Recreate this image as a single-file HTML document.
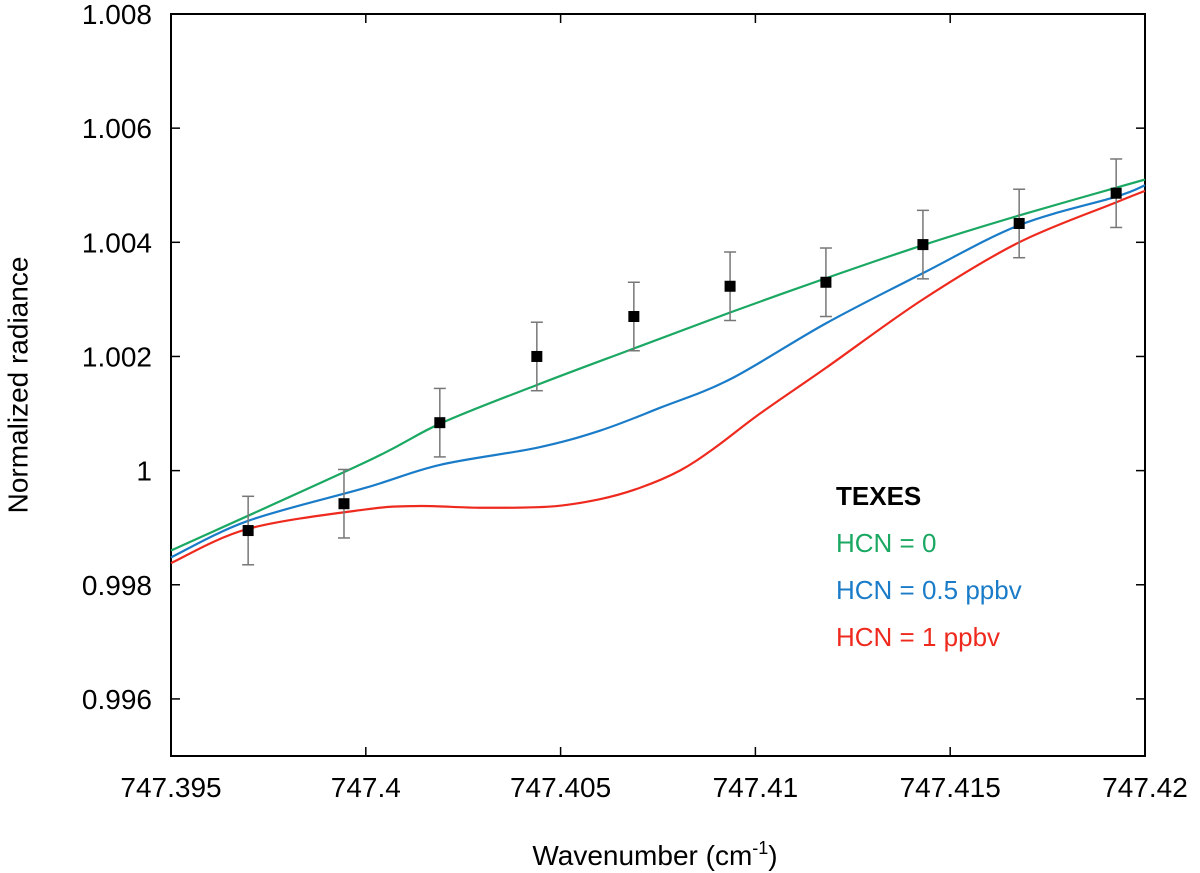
<!DOCTYPE html>
<html><head><meta charset="utf-8"><style>
html,body{margin:0;padding:0;background:#fff}
svg{display:block;font-family:"Liberation Sans",sans-serif}
</style></head><body>
<svg id="chart" width="1200" height="873">
<rect x="171" y="14" width="974" height="742" fill="none" stroke="#000" stroke-width="2"/>
<g id="ticks"></g>
<g id="series"></g>
<g id="points"></g>
<text x="20" y="385" transform="rotate(-90 20 385)" text-anchor="middle" dominant-baseline="middle" font-size="28">Normalized radiance</text>
<text x="655" y="865" text-anchor="middle" font-size="28">Wavenumber (cm<tspan dy="-11" font-size="18">-1</tspan><tspan dy="11">)</tspan></text>
<g>
<text x="836" y="505" font-size="26" font-weight="bold" fill="#000">TEXES</text>
<text x="836" y="552" font-size="26" fill="#1aa862">HCN = 0</text>
<text x="836" y="599" font-size="26" fill="#1a7cc8">HCN = 0.5 ppbv</text>
<text x="836" y="646" font-size="26" fill="#ee2a1e">HCN = 1 ppbv</text>
</g>
</svg>
<script>
const xTicks=[747.395,747.4,747.405,747.41,747.415,747.42];
const xTickLabels=["747.395","747.4","747.405","747.41","747.415","747.42"];
const yTicks=[0.996,0.998,1,1.002,1.004,1.006,1.008];
const yTickLabels=["0.996","0.998","1","1.002","1.004","1.006","1.008"];
const obsX=[747.39698,747.39944,747.4019,747.40439,747.40688,747.40935,747.41181,747.4143,747.41677,747.41926];
const obsY=[0.99895,0.99942,1.00084,1.002,1.0027,1.00323,1.0033,1.00396,1.00433,1.00486];
const obsErr=[0.0006,0.0006,0.0006,0.0006,0.0006,0.0006,0.0006,0.0006,0.0006,0.0006];
const greenX=[747.395,747.4,747.4019,747.40439,747.40688,747.40935,747.41181,747.4143,747.41677,747.42];
const greenY=[0.9986,1.00015,1.00082,1.0015,1.00214,1.00277,1.00337,1.00395,1.00447,1.0051];
const blueX=[747.395,747.39698,747.4,747.4019,747.40439,747.40601,747.40755,747.40935,747.41181,747.4143,747.41677,747.41926,747.42];
const blueY=[0.99848,0.99912,0.9997,1.0001,1.0004,1.0007,1.0011,1.0016,1.00258,1.00346,1.0043,1.0048,1.005];
const redX=[747.395,747.39698,747.4,747.40139,747.40293,747.40473,747.40601,747.40704,747.40806,747.40896,747.41012,747.41181,747.4143,747.41677,747.41926,747.42];
const redY=[0.99838,0.99898,0.99932,0.99938,0.99935,0.99937,0.9995,0.9997,1.0,1.0004,1.001,1.0018,1.003,1.004,1.0047,1.0049];
const X0=171,X1=1145,Y0=756,Y1=14;
function xs(v){return X0+(v-747.395)/(747.42-747.395)*(X1-X0);}
function ys(v){return Y0-(v-0.995)/(1.008-0.995)*(Y0-Y1);}
const NS="http://www.w3.org/2000/svg";
function mk(tag,attrs,parent){const e=document.createElementNS(NS,tag);for(const k in attrs)e.setAttribute(k,attrs[k]);parent.appendChild(e);return e;}
const tk=document.getElementById('ticks');
xTicks.forEach((v,i)=>{const x=xs(v);
 let l=mk('line',{x1:x,x2:x,y1:Y0,y2:Y0-9,stroke:'#000','stroke-width':1.5},tk);
 
 
 let l2=mk('line',{x1:x,x2:x,y1:Y1,y2:Y1+9,stroke:'#000','stroke-width':1.5},tk);
 
 
 const t=mk('text',{x:x,y:797,'text-anchor':'middle','font-size':28},tk);t.textContent=xTickLabels[i];
 
 
});
yTicks.forEach((v,i)=>{const y=ys(v);
 let l=mk('line',{x1:X0,x2:X0+9,y1:y,y2:y,stroke:'#000','stroke-width':1.5},tk);
 
 
 let l2=mk('line',{x1:X1,x2:X1-9,y1:y,y2:y,stroke:'#000','stroke-width':1.5},tk);
 
 
 const t=mk('text',{x:152,y:y+10,'text-anchor':'end','font-size':28},tk);t.textContent=yTickLabels[i];
 
 
});
function smooth(xa,ya){const p=xa.map((v,i)=>[xs(v),ys(ya[i])]);let d='M'+p[0][0]+','+p[0][1];
 for(let i=0;i<p.length-1;i++){const a=p[i-1]||p[i],b=p[i],c=p[i+1],e=p[i+2]||c;
  d+=' C'+(b[0]+(c[0]-a[0])/6)+','+(b[1]+(c[1]-a[1])/6)+' '+(c[0]-(e[0]-b[0])/6)+','+(c[1]-(e[1]-b[1])/6)+' '+c[0]+','+c[1];}
 return d;}
const sg=document.getElementById('series');
[[greenX,greenY,'#1aa862','curve-hcn-0'],[blueX,blueY,'#1a7cc8','curve-hcn-0.5'],[redX,redY,'#ee2a1e','curve-hcn-1']].forEach(s=>{
 const p=mk('path',{d:smooth(s[0],s[1]),fill:'none',stroke:s[2],'stroke-width':2.2},sg);
 
 
});
const pg=document.getElementById('points');
obsX.forEach((v,i)=>{const x=xs(v),y=ys(obsY[i]),yt=ys(obsY[i]+obsErr[i]),yb=ys(obsY[i]-obsErr[i]);
 const g=mk('g',{stroke:'#777','stroke-width':1.5},pg);
 
 
 mk('line',{x1:x,x2:x,y1:yt,y2:yb},g);mk('line',{x1:x-6,x2:x+6,y1:yt,y2:yt},g);mk('line',{x1:x-6,x2:x+6,y1:yb,y2:yb},g);
 const r=mk('rect',{x:x-5.5,y:y-5.5,width:11,height:11,fill:'#000'},pg);
 
 
});
</script>
</body></html>
